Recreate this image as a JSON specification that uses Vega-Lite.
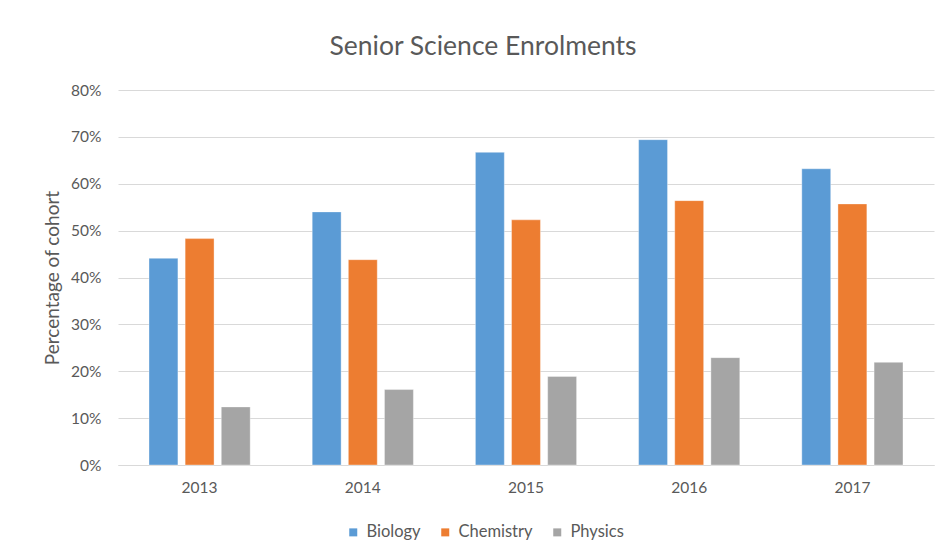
{
  "$schema": "https://vega.github.io/schema/vega-lite/v6.json",
  "autosize": {"type": "none"},
  "padding": {"left": 118, "top": 90, "right": 12, "bottom": 92},
  "width": 816,
  "height": 375,
  "background": "white",
  "title": {
    "text": "Senior Science Enrolments",
    "font": "Lato",
    "fontSize": 26.5,
    "fontWeight": "normal",
    "color": "#595959",
    "anchor": "middle",
    "frame": "group",
    "dx": -43,
    "offset": 23
  },
  "data": {
    "values": [
      {"year": "2013", "subject": "Biology", "pct": 0.441},
      {"year": "2013", "subject": "Chemistry", "pct": 0.483},
      {"year": "2013", "subject": "Physics", "pct": 0.124},
      {"year": "2014", "subject": "Biology", "pct": 0.540},
      {"year": "2014", "subject": "Chemistry", "pct": 0.438},
      {"year": "2014", "subject": "Physics", "pct": 0.161},
      {"year": "2015", "subject": "Biology", "pct": 0.667},
      {"year": "2015", "subject": "Chemistry", "pct": 0.523},
      {"year": "2015", "subject": "Physics", "pct": 0.189},
      {"year": "2016", "subject": "Biology", "pct": 0.694},
      {"year": "2016", "subject": "Chemistry", "pct": 0.564},
      {"year": "2016", "subject": "Physics", "pct": 0.229},
      {"year": "2017", "subject": "Biology", "pct": 0.632},
      {"year": "2017", "subject": "Chemistry", "pct": 0.557},
      {"year": "2017", "subject": "Physics", "pct": 0.219}
    ]
  },
  "mark": {"type": "bar", "stroke": "white", "strokeWidth": 0.6, "strokeOpacity": 0.6},
  "encoding": {
    "x": {
      "field": "year",
      "type": "nominal",
      "scale": {"paddingInner": 0.38, "paddingOuter": 0.19},
      "axis": {
        "title": null,
        "labelAngle": 0,
        "ticks": false,
        "domainColor": "#D9D9D9",
        "domainWidth": 1,
        "labelPadding": 15,
        "labelFont": "Lato",
        "labelFontSize": 15.5,
        "labelColor": "#595959"
      }
    },
    "xOffset": {
      "field": "subject",
      "type": "nominal",
      "sort": ["Biology", "Chemistry", "Physics"],
      "scale": {"paddingInner": 0.2, "paddingOuter": 0}
    },
    "y": {
      "field": "pct",
      "type": "quantitative",
      "scale": {"domain": [0, 0.8], "nice": false},
      "axis": {
        "title": "Percentage of cohort",
        "titleFont": "Lato",
        "titleFontSize": 19,
        "titleFontWeight": "normal",
        "titleColor": "#595959",
        "titlePadding": 8,
        "values": [0, 0.1, 0.2, 0.3, 0.4, 0.5, 0.6, 0.7, 0.8],
        "format": ".0%",
        "ticks": false,
        "domain": false,
        "labelPadding": 17,
        "labelFont": "Lato",
        "labelFontSize": 15.5,
        "labelColor": "#595959",
        "gridColor": "#D9D9D9",
        "gridWidth": 1
      }
    },
    "color": {
      "field": "subject",
      "type": "nominal",
      "sort": ["Biology", "Chemistry", "Physics"],
      "scale": {"domain": ["Biology", "Chemistry", "Physics"], "range": ["#5B9BD5", "#ED7D31", "#A5A5A5"]},
      "legend": {
        "title": null,
        "orient": "none",
        "legendX": 227,
        "legendY": 434,
        "direction": "horizontal",
        "symbolType": "square",
        "symbolSize": 64,
        "symbolStrokeWidth": 0,
        "labelFont": "Lato",
        "labelFontSize": 16.5,
        "labelColor": "#595959",
        "labelOffset": 5,
        "columnPadding": 16
      }
    }
  },
  "config": {
    "view": {"stroke": null}
  }
}
